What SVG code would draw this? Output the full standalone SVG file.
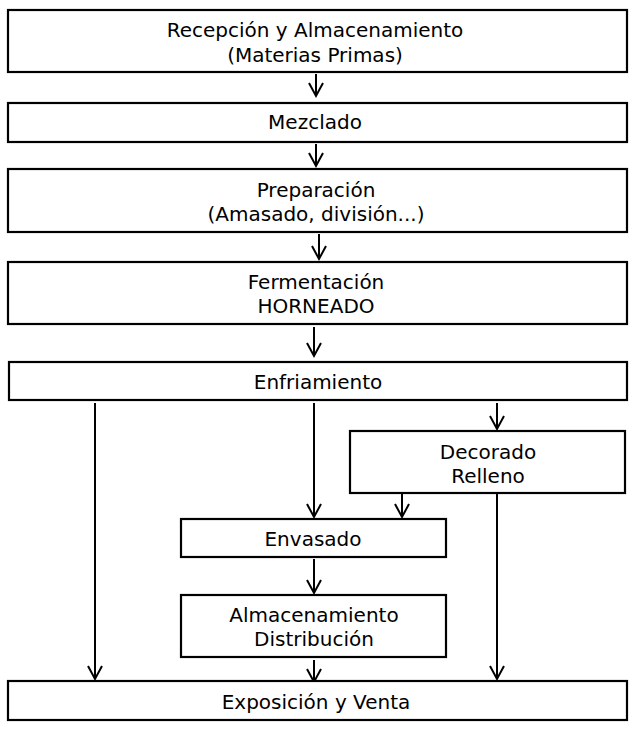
<svg xmlns="http://www.w3.org/2000/svg" width="637" height="730" viewBox="0 0 637 730">
  <style>
    .box { fill: #ffffff; stroke: #000000; stroke-width: 2.2; }
    .lbl { font-family: "DejaVu Sans", "Liberation Sans", sans-serif; font-size: 20px; fill: #000000; text-anchor: middle; }
    .conn { stroke: #000000; stroke-width: 2; fill: none; }
  </style>
  <defs>
    <marker id="arr" markerUnits="userSpaceOnUse" markerWidth="20" markerHeight="20" refX="0" refY="0" orient="auto" overflow="visible">
      <path d="M -13 -7 L 0 0 L -13 7" fill="none" stroke="#000000" stroke-width="2"/>
    </marker>
  </defs>
  <rect width="637" height="730" fill="#ffffff"/>

  <g id="connectors">
    <line class="conn" x1="316" y1="74" x2="316" y2="96" marker-end="url(#arr)"/>
    <line class="conn" x1="316" y1="144" x2="316" y2="166" marker-end="url(#arr)"/>
    <line class="conn" x1="319" y1="234" x2="319" y2="259" marker-end="url(#arr)"/>
    <line class="conn" x1="314" y1="327" x2="314" y2="356" marker-end="url(#arr)"/>
    <line class="conn" x1="95" y1="403" x2="95" y2="679" marker-end="url(#arr)"/>
    <line class="conn" x1="314" y1="403" x2="314" y2="517" marker-end="url(#arr)"/>
    <line class="conn" x1="497" y1="403" x2="497" y2="429" marker-end="url(#arr)"/>
    <line class="conn" x1="402" y1="494" x2="402" y2="517" marker-end="url(#arr)"/>
    <line class="conn" x1="497" y1="494" x2="497" y2="679" marker-end="url(#arr)"/>
    <line class="conn" x1="314" y1="559" x2="314" y2="593" marker-end="url(#arr)"/>
    <line class="conn" x1="314" y1="660" x2="314" y2="682" marker-end="url(#arr)"/>
  </g>

  <g id="recepcion">
    <rect class="box" x="8" y="10" width="619" height="62"/>
    <text class="lbl" x="315" y="37">Recepción y Almacenamiento</text>
    <text class="lbl" x="315" y="62">(Materias Primas)</text>
  </g>
  <g id="mezclado">
    <rect class="box" x="8" y="103" width="619" height="39"/>
    <text class="lbl" x="315" y="129">Mezclado</text>
  </g>
  <g id="preparacion">
    <rect class="box" x="8" y="169" width="619" height="63"/>
    <text class="lbl" x="316" y="197">Preparación</text>
    <text class="lbl" x="316" y="221">(Amasado, división...)</text>
  </g>
  <g id="fermentacion">
    <rect class="box" x="8" y="262" width="619" height="62"/>
    <text class="lbl" x="316" y="289">Fermentación</text>
    <text class="lbl" x="316" y="313">HORNEADO</text>
  </g>
  <g id="enfriamiento">
    <rect class="box" x="9" y="362" width="618" height="38"/>
    <text class="lbl" x="318" y="389">Enfriamiento</text>
  </g>
  <g id="decorado">
    <rect class="box" x="350" y="431" width="275" height="62"/>
    <text class="lbl" x="488" y="459">Decorado</text>
    <text class="lbl" x="488" y="483">Relleno</text>
  </g>
  <g id="envasado">
    <rect class="box" x="181" y="519" width="265" height="38"/>
    <text class="lbl" x="313" y="546">Envasado</text>
  </g>
  <g id="almacenamiento">
    <rect class="box" x="181" y="595" width="265" height="62"/>
    <text class="lbl" x="314" y="622">Almacenamiento</text>
    <text class="lbl" x="314" y="646">Distribución</text>
  </g>
  <g id="exposicion">
    <rect class="box" x="8" y="681" width="619" height="39"/>
    <text class="lbl" x="316" y="709">Exposición y Venta</text>
  </g>
</svg>
